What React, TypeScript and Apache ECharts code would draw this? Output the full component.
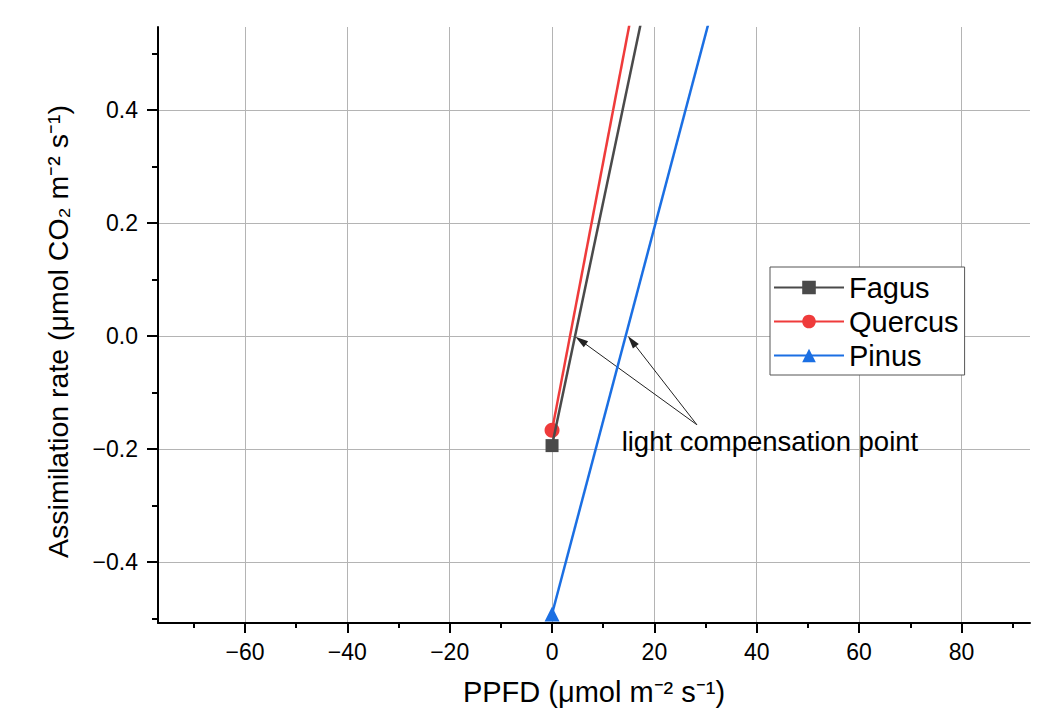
import React, { useEffect, useRef } from "react";
import * as echarts from "echarts";

// ---- data ----
const seriesNames = ["Fagus", "Quercus", "Pinus"];
const seriesColors = ["#4a4a4a", "#ef3b3b", "#1b6fe3"];
const seriesSymbols = ["rect", "circle", "triangle"];
const fagusPoints = [[0, -0.194], [30, 1.099]];
const quercusPoints = [[0, -0.167], [30, 1.258]];
const pinusPoints = [[0, -0.492], [40, 0.876]];
const xMajorTicks = [-60, -40, -20, 0, 20, 40, 60, 80];
const xMinorTicks = [-70, -50, -30, -10, 10, 30, 50, 70, 90];
const yMajorTicks = [-0.4, -0.2, 0, 0.2, 0.4];
const yMinorTicks = [-0.5, -0.3, -0.1, 0.1, 0.3, 0.5];
const xRange = [-77, 93.4];
const yRange = [-0.508, 0.547];
const annotationText = "light compensation point";
const annotationAnchor = [28.3, -0.157];
const compensationPointers = [[5.6, -0.008], [15.6, -0.009]];
const annotationLabelPos = [13.6, -0.186];

const FONT = "Arial, 'Liberation Sans', sans-serif";
const ARROW_HEAD = "path://M0,0 M14,0 M7,0 L11,14 L3,14 Z";

export default function App() {
  const ref = useRef<HTMLDivElement>(null);
  useEffect(() => {
    if (!ref.current) return;
    const chart = echarts.init(ref.current, undefined, { renderer: "svg" });
    const fmtMinus = (s: string) => s.replace("-", "\u2212");
    const allPoints = [fagusPoints, quercusPoints, pinusPoints];
    const series: any[] = seriesNames.map((name, i) => ({
      name,
      type: "line",
      xAxisIndex: 0,
      yAxisIndex: 0,
      clip: true,
      symbol: seriesSymbols[i],
      symbolSize: i === 0 ? 13 : 15,
      showSymbol: true,
      color: seriesColors[i],
      lineStyle: { width: 2.5, color: seriesColors[i] },
      itemStyle: { color: seriesColors[i] },
      z: 10 - i,
      data: allPoints[i].map((p, j) =>
        j === 0 ? { value: p } : { value: p, symbol: "none" }
      ),
    }));
    series.push({
      name: "annotation",
      type: "line",
      data: [],
      silent: true,
      markLine: {
        silent: true,
        symbol: ["none", ARROW_HEAD],
        symbolSize: 13,
        label: { show: false },
        lineStyle: { color: "#222", width: 1, type: "solid" },
        itemStyle: { color: "#000" },
        animation: false,
        data: compensationPointers.map((p) => [
          { coord: annotationAnchor },
          { coord: p },
        ]),
      },
      markPoint: {
        silent: true,
        symbol: "circle",
        symbolSize: 0,
        animation: false,
        data: [
          {
            coord: annotationLabelPos,
            label: {
              show: true,
              position: "right",
              distance: 0,
              formatter: annotationText,
              fontSize: 27.5,
              fontFamily: FONT,
              color: "#000",
            },
          },
        ],
      },
    });
    chart.setOption({
      animation: false,
      backgroundColor: "#fff",
      grid: { left: 158, right: 8, top: 27, bottom: 89, containLabel: false },
      legend: {
        data: seriesNames,
        orient: "vertical",
        left: 770,
        top: 267,
        itemWidth: 70,
        itemHeight: 17,
        itemGap: 5,
        padding: [6, 6, 5, 3],
        borderColor: "#555",
        borderWidth: 1,
        backgroundColor: "#fff",
        textStyle: { fontSize: 29, fontFamily: FONT, color: "#000" },
      },
      xAxis: [
        {
          type: "value",
          min: xRange[0],
          max: xRange[1],
          position: "bottom",
          name: "PPFD (\u03bcmol m\u207b\u00b2 s\u207b\u00b9)",
          nameLocation: "middle",
          nameGap: 54,
          nameTextStyle: { fontSize: 29, fontFamily: FONT, color: "#000" },
          axisLine: { show: true, onZero: false, lineStyle: { color: "#000", width: 2 } },
          axisTick: { show: true, customValues: xMajorTicks, length: 10, lineStyle: { color: "#000", width: 2 } },
          axisLabel: {
            customValues: xMajorTicks,
            margin: 17,
            fontSize: 23,
            fontFamily: FONT,
            color: "#000",
            formatter: (v: number) => fmtMinus(String(v)),
          },
          splitLine: { show: true, lineStyle: { color: "#b4b4b4", width: 1 } },
        },
        {
          type: "value",
          min: xRange[0],
          max: xRange[1],
          position: "bottom",
          axisLine: { show: false, onZero: false },
          axisTick: { show: true, customValues: xMinorTicks, length: 5, lineStyle: { color: "#000", width: 2 } },
          axisLabel: { show: false },
          splitLine: { show: false },
        },
      ],
      yAxis: [
        {
          type: "value",
          min: yRange[0],
          max: yRange[1],
          position: "left",
          name: "Assimilation rate (\u03bcmol CO\u2082 m\u207b\u00b2 s\u207b\u00b9)",
          nameLocation: "middle",
          nameGap: 86,
          nameTextStyle: { fontSize: 28.5, fontFamily: FONT, color: "#000", padding: [0, 13, 0, 0] },
          axisLine: { show: true, onZero: false, lineStyle: { color: "#000", width: 2 } },
          axisTick: { show: true, customValues: yMajorTicks, length: 11, lineStyle: { color: "#000", width: 2 } },
          axisLabel: {
            customValues: yMajorTicks,
            margin: 20,
            fontSize: 23,
            fontFamily: FONT,
            color: "#000",
            formatter: (v: number) => fmtMinus(v.toFixed(1)),
          },
          splitLine: { show: true, lineStyle: { color: "#b4b4b4", width: 1 } },
        },
        {
          type: "value",
          min: yRange[0],
          max: yRange[1],
          position: "left",
          axisLine: { show: false, onZero: false },
          axisTick: { show: true, customValues: yMinorTicks, length: 6, lineStyle: { color: "#000", width: 2 } },
          axisLabel: { show: false },
          splitLine: { show: false },
        },
      ],
      series,
    });
    return () => chart.dispose();
  }, []);
  return (
    <div
      ref={ref}
      style={{ position: "absolute", left: 0, top: 0, width: 1038, height: 712 }}
    />
  );
}
